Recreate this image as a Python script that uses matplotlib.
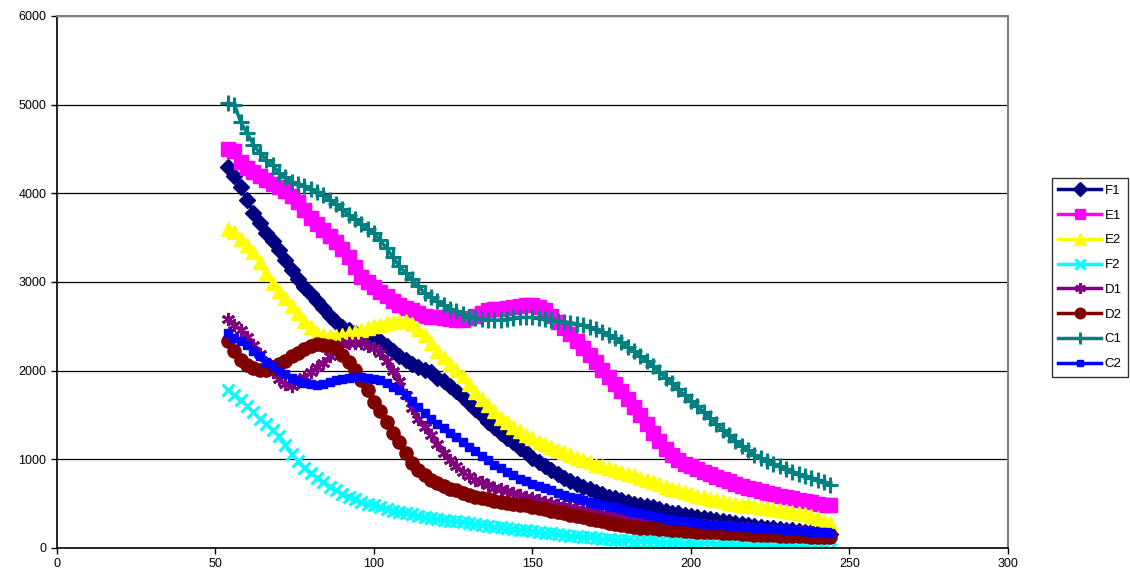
import matplotlib.pyplot as plt
import numpy as np

# x positions shared by every series (one reading every 2 units)
x_vals = np.arange(54, 246, 2)

F1 = [4300, 4200, 4070, 3920, 3780, 3660, 3550, 3460, 3360, 3250,
      3140, 3030, 2940, 2860, 2780, 2710, 2620, 2550, 2490, 2460,
      2430, 2400, 2380, 2360, 2330, 2280, 2220, 2170, 2120, 2080,
      2040, 2010, 1980, 1920, 1880, 1830, 1770, 1700, 1640, 1570,
      1500, 1420, 1360, 1300, 1240, 1190, 1130, 1080, 1020, 970,
      920, 880, 830, 790, 750, 720, 690, 660, 630, 610,
      580, 560, 540, 520, 500, 490, 470, 460, 440, 420,
      400, 390, 370, 360, 350, 340, 330, 320, 300, 290,
      280, 270, 260, 250, 240, 230, 220, 210, 205, 200,
      190, 180, 175, 170, 165, 160]
E1 = [4500, 4480, 4350, 4280, 4240, 4200, 4150, 4110, 4070, 4030,
      3970, 3900, 3810, 3720, 3650, 3590, 3520, 3450, 3370, 3280,
      3170, 3060, 3000, 2940, 2890, 2840, 2790, 2740, 2710, 2680,
      2650, 2620, 2610, 2600, 2590, 2580, 2575, 2570, 2590, 2620,
      2650, 2680, 2690, 2700, 2710, 2720, 2730, 2740, 2740, 2720,
      2680, 2620, 2550, 2480, 2410, 2340, 2260, 2180, 2100, 2010,
      1930, 1850, 1770, 1680, 1590, 1500, 1400, 1300, 1210, 1120,
      1050, 990, 950, 920, 890, 860, 830, 800, 775, 750,
      725, 700, 680, 660, 640, 620, 605, 590, 575, 560,
      545, 530, 515, 500, 490, 480]
E2 = [3600, 3560, 3480, 3420, 3340, 3220, 3100, 2990, 2900, 2820,
      2730, 2650, 2560, 2490, 2430, 2400, 2390, 2390, 2400, 2420,
      2440, 2460, 2480, 2500, 2520, 2540, 2550, 2560, 2560, 2530,
      2470, 2400, 2310, 2220, 2150, 2080, 2010, 1940, 1850, 1760,
      1680, 1610, 1540, 1470, 1420, 1370, 1320, 1280, 1240, 1200,
      1170, 1140, 1110, 1080, 1050, 1020, 990, 970, 940, 920,
      900, 880, 860, 840, 820, 790, 770, 740, 720, 690,
      670, 650, 630, 610, 590, 570, 550, 540, 525, 510,
      500, 490, 480, 470, 460, 450, 440, 430, 415, 405,
      395, 380, 360, 340, 310, 280]
F2 = [1780, 1720, 1670, 1600, 1530, 1460, 1400, 1330, 1260, 1160,
      1060, 980, 900, 850, 790, 740, 690, 650, 610, 580,
      550, 520, 500, 480, 460, 440, 420, 410, 395, 380,
      365, 350, 340, 330, 320, 310, 300, 290, 280, 270,
      260, 250, 240, 235, 225, 215, 205, 200, 190, 180,
      170, 165, 155, 150, 140, 135, 125, 120, 110, 105,
      100, 95, 90, 85, 82, 80, 77, 75, 72, 70,
      67, 65, 62, 60, 57, 55, 52, 50, 47, 45,
      42, 40, 37, 35, 32, 30, 27, 25, 22, 20,
      15, 10, 5, 0, -5, -10]
D1 = [2580, 2520, 2460, 2380, 2290, 2190, 2090, 1990, 1910, 1850,
      1830, 1870, 1930, 1980, 2040, 2090, 2160, 2240, 2300, 2310,
      2310, 2310, 2280, 2250, 2200, 2110, 2000, 1880, 1720, 1580,
      1460, 1360, 1270, 1170, 1070, 990, 920, 860, 810, 770,
      740, 710, 680, 660, 640, 620, 600, 580, 560, 540,
      520, 505, 490, 475, 460, 445, 430, 415, 400, 385,
      370, 360, 350, 340, 330, 320, 310, 300, 290, 285,
      280, 275, 270, 265, 260, 255, 250, 245, 240, 235,
      230, 225, 220, 215, 210, 205, 200, 195, 190, 185,
      180, 175, 170, 165, 160, 155]
D2 = [2330, 2220, 2120, 2060, 2030, 2010, 2010, 2040, 2080, 2110,
      2160, 2200, 2240, 2280, 2300, 2290, 2280, 2250, 2180, 2100,
      2010, 1900, 1780, 1650, 1540, 1420, 1300, 1190, 1070, 960,
      880, 820, 770, 730, 700, 670, 650, 620, 600, 580,
      565, 550, 535, 520, 510, 500, 490, 480, 465, 450,
      435, 420, 405, 390, 375, 360, 345, 330, 315, 300,
      285, 270, 260, 250, 240, 230, 225, 220, 215, 210,
      205, 200, 195, 190, 185, 180, 178, 175, 172, 170,
      165, 160, 155, 150, 148, 145, 142, 140, 138, 135,
      132, 130, 128, 125, 122, 120]
C1 = [5020, 5000, 4800, 4680, 4550, 4450, 4380, 4320, 4230, 4180,
      4130, 4100, 4080, 4050, 4020, 3980, 3930, 3880, 3820, 3760,
      3710, 3650, 3600, 3550, 3470, 3380, 3280, 3180, 3100, 3030,
      2950, 2880, 2830, 2780, 2740, 2700, 2670, 2640, 2610, 2590,
      2580, 2570, 2570, 2570, 2580, 2590, 2600, 2600, 2600, 2590,
      2580, 2570, 2560, 2550, 2540, 2530, 2510, 2490, 2470, 2440,
      2400, 2370, 2320, 2270, 2220, 2170, 2110, 2050, 1990, 1920,
      1860, 1790, 1720, 1660, 1600, 1530, 1470, 1400, 1330, 1270,
      1210, 1150, 1100, 1050, 1010, 980, 950, 920, 890, 860,
      835, 810, 790, 770, 740, 710]
C2 = [2420, 2370, 2330, 2290, 2220, 2160, 2100, 2050, 2000, 1960,
      1920, 1880, 1860, 1850, 1840, 1850, 1870, 1890, 1910, 1920,
      1930, 1930, 1920, 1910, 1890, 1860, 1820, 1780, 1720, 1660,
      1590, 1520, 1450, 1400, 1350, 1300, 1250, 1200, 1140, 1090,
      1040, 990, 940, 900, 860, 820, 780, 750, 720, 700,
      675, 650, 625, 600, 580, 560, 540, 520, 500, 480,
      470, 460, 440, 420, 405, 390, 375, 360, 345, 330,
      320, 310, 300, 290, 280, 270, 265, 260, 255, 250,
      245, 240, 235, 230, 225, 220, 215, 210, 205, 200,
      195, 190, 185, 180, 175, 170]

names = ['F1', 'E1', 'E2', 'F2', 'D1', 'D2', 'C1', 'C2']
series = [F1, E1, E2, F2, D1, D2, C1, C2]
colors = ['#000080', '#FF00FF', '#FFFF00', '#00FFFF', '#800080', '#800000', '#008080', '#0000FF']
markers = ['D', 's', '^', 'x', (6, 2, 0), 'o', '+', 's']
msizes = [8.5, 9.5, 10, 8.5, 9.5, 9.5, 11, 5.5]
medge = [1, 1, 1, 2.2, 2, 1, 2.2, 1]

plt.rcParams['font.family'] = ['Liberation Sans', 'DejaVu Sans']
fig = plt.figure(figsize=(11.3, 5.81), dpi=100)
ax = fig.add_axes([0.0504, 0.0568, 0.8416, 0.9157])

for name, ys, c, m, ms, mew in zip(names, series, colors, markers, msizes, medge):
    ax.plot(x_vals, ys, color=c, lw=2.5, marker=m, markersize=ms, markeredgewidth=mew,
            markerfacecolor=c, markeredgecolor=c, label=name)

ax.set_xlim(0, 300)
ax.set_ylim(0, 6000)
ax.set_xticks(np.arange(0, 301, 50))
ax.set_yticks(np.arange(0, 6001, 1000))
ax.yaxis.grid(True, color='black', lw=0.9)
ax.set_axisbelow(True)
ax.tick_params(labelsize=9, direction='out', length=4, width=1)
ax.spines['left'].set_linewidth(1.2)
ax.spines['bottom'].set_linewidth(1.2)
ax.spines['top'].set_color('#808080')
ax.spines['right'].set_color('#808080')
ax.spines['top'].set_linewidth(1.5)
ax.spines['right'].set_linewidth(1.5)

# legend markers kept at the smaller Excel legend size
leg = fig.legend(loc='upper left', bbox_to_anchor=(0.925, 0.705), fontsize=9.5,
                 frameon=True, fancybox=False, edgecolor='black', handlelength=3.2,
                 labelspacing=0.95, borderpad=0.5, handletextpad=0.3, markerscale=0.8)
leg.get_frame().set_linewidth(1)

fig.savefig('out.png', dpi=100)
